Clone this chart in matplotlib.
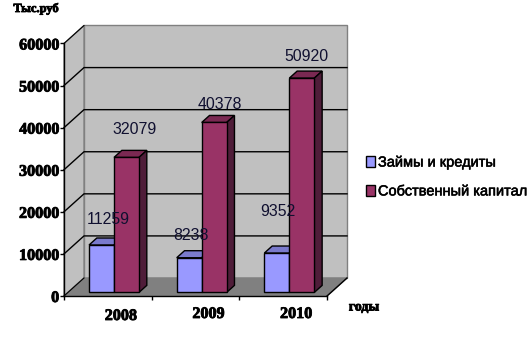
import matplotlib
matplotlib.use('Agg')
from matplotlib import pyplot as plt
import matplotlib.patheffects as pe

years = ['2008', '2009', '2010']
loans = [11259, 8238, 9352]
equity = [32079, 40378, 50920]
yticks = [0, 10000, 20000, 30000, 40000, 50000, 60000]
loans_name = 'Займы и кредиты'
equity_name = 'Собственный капитал'
y_title = 'Тыс.руб'
x_title = 'годы'

W, H = 531, 356
fig = plt.figure(figsize=(W / 100, H / 100), dpi=100)
ax = fig.add_axes([64 / W, (H - 296) / H, 263 / W, 252.5 / H])
ax.set_xlim(0, 3)
ax.set_ylim(0, 60000)
for s in ax.spines.values():
    s.set_visible(False)
ax.patch.set_visible(False)

# depth of the 3d box, in data units
DX = 20 / (263 / 3)
DY = 18 / (252.5 / 60000)

def pt(x, y, d):    # d=0 front plane, d=1 back wall
    return x + DX * d, y + DY * d

def poly(points, col, z, edge='black', lw=1.0):
    xs = [p[0] for p in points]
    ys = [p[1] for p in points]
    ax.fill(xs, ys, facecolor=col, edgecolor=edge, linewidth=lw, zorder=z, clip_on=False)

#---------walls and floor
poly([pt(0, 0, 1), pt(3, 0, 1), pt(3, 60000, 1), pt(0, 60000, 1)], '#C0C0C0', 1, '#808080')
poly([pt(0, 0, 0), pt(0, 0, 1), pt(0, 60000, 1), pt(0, 60000, 0)], '#C0C0C0', 1, '#808080')
poly([pt(0, 0, 0), pt(3, 0, 0), pt(3, 0, 1), pt(0, 0, 1)], '#808080', 1, '#808080')

for v in yticks[1:-1]:
    ax.plot(*zip(pt(0, v, 0), pt(0, v, 1), pt(3, v, 1)), color='black', lw=1, zorder=2, clip_on=False)
ax.plot(*zip(pt(0, 60000, 0), pt(0, 60000, 1)), color='black', lw=0.8, zorder=2, clip_on=False)
ax.plot(*zip(pt(0, 0, 0), pt(0, 0, 1)), color='black', lw=0.8, zorder=2, clip_on=False)
ax.plot(*zip(pt(3, 0, 0), pt(3, 0, 1)), color='black', lw=1, zorder=2, clip_on=False)
ax.plot([0, 0], [0, 60000], color='black', lw=1, zorder=3, clip_on=False)
ax.plot([0, 3], [0, 0], color='black', lw=1, zorder=3, clip_on=False)

#---------bars
bw = 0.285
d0, d1 = 0.2, 0.59

def bar3d(x, v, front, top, side, z):
    ox, oy = pt(0, 0, d0)
    ax.bar(x + ox, v, bw, bottom=oy, color=front, edgecolor='black', linewidth=1,
           align='edge', zorder=z + 0.2, clip_on=False)
    poly([pt(x, v, d0), pt(x + bw, v, d0), pt(x + bw, v, d1), pt(x, v, d1)], top, z)
    poly([pt(x + bw, 0, d0), pt(x + bw, 0, d1), pt(x + bw, v, d1), pt(x + bw, v, d0)], side, z)

for i in range(len(years)):
    bar3d(i + 0.24, loans[i], '#9999FF', '#7A7ACC', '#4D4D80', 4 + i)
    bar3d(i + 0.24 + bw, equity[i], '#993366', '#7A2952', '#4F1D39', 4.5 + i)

#---------data labels, placed by hand like in the original
loan_off = [(7, 26), (2, 22), (1, 42)]
equity_off = [(8, 28), (6, 18), (5, 22)]
for i in range(len(years)):
    for k, (vals, off) in enumerate([(loans, loan_off), (equity, equity_off)]):
        xb, yb = pt(i + 0.24 + bw * (k + 0.5), vals[i], d0)
        ax.annotate(str(vals[i]), (xb, yb), xytext=off[i], textcoords='offset pixels',
                    ha='center', va='center', fontsize=11.4, family='Liberation Sans',
                    color='#101030', zorder=20, annotation_clip=False)

#---------axes ticks and text
heavy = [pe.withStroke(linewidth=0.6, foreground='black')]
ax.set_yticks(yticks)
ax.set_yticklabels([str(v) for v in yticks], family='Liberation Serif', fontweight='bold',
                   fontsize=11.6, path_effects=heavy)
ax.set_xticks([0, 1, 2, 3])
ax.set_xticklabels([])
ax.tick_params(axis='y', length=3, width=1, pad=0.5)
ax.tick_params(axis='x', length=3, width=1)

year_off = [(13, -20), (13, -18), (13, -18)]
for i in range(len(years)):
    ax.annotate(years[i], (i + 0.5, 0), xytext=year_off[i], textcoords='offset pixels',
                ha='center', va='center', family='Liberation Serif', fontweight='bold',
                fontsize=11.6, path_effects=heavy, annotation_clip=False)

fig.text(36 / W, 1 - 9 / H, y_title, ha='center', va='center', family='Liberation Serif',
         fontweight='bold', fontsize=9, path_effects=heavy)
fig.text(364 / W, 1 - 307 / H, x_title, ha='center', va='center', family='Liberation Serif',
         fontweight='bold', fontsize=10, path_effects=heavy)

#---------legend
thin = [pe.withStroke(linewidth=0.4, foreground='black')]
h1 = plt.Rectangle((0, 0), 1, 1, facecolor='#9999FF', edgecolor='black', linewidth=1)
h2 = plt.Rectangle((0, 0), 1, 1, facecolor='#993366', edgecolor='black', linewidth=1)
leg = fig.legend([h1, h2], [loans_name, equity_name], loc='center left',
                 bbox_to_anchor=(366 / W, 1 - 177 / H), frameon=False, borderpad=0, borderaxespad=0,
                 handlelength=0.62, handleheight=0.75, handletextpad=0.2, labelspacing=1.02,
                 prop={'family': 'Liberation Sans', 'size': 10.5})
for t in leg.get_texts():
    t.set_path_effects(thin)

fig.savefig('out.png', dpi=100)
